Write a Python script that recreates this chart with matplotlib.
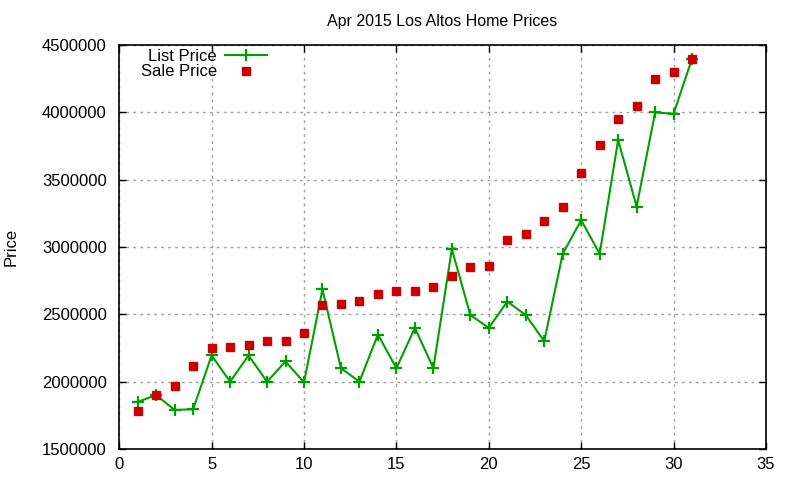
import matplotlib
matplotlib.use("Agg")
import matplotlib.pyplot as plt

days = list(range(1, 32))
list_price = [1850000, 1900000, 1790000, 1795000, 2195000, 2000000, 2195000, 2000000,
              2150000, 1995000, 2685000, 2100000, 2000000, 2350000, 2100000, 2400000,
              2100000, 2985000, 2495000, 2400000, 2595000, 2495000, 2300000, 2950000,
              3200000, 2950000, 3795000, 3300000, 4000000, 3990000, 4400000]
sale_price = [1785000, 1900000, 1965000, 2120000, 2250000, 2255000, 2270000, 2300000,
              2300000, 2360000, 2570000, 2575000, 2600000, 2650000, 2675000, 2675000,
              2700000, 2785000, 2850000, 2860000, 3050000, 3100000, 3195000, 3300000,
              3550000, 3755000, 3950000, 4050000, 4245000, 4300000, 4400000]
x_ticks = [0, 5, 10, 15, 20, 25, 30, 35]
y_ticks = [1500000, 2000000, 2500000, 3000000, 3500000, 4000000, 4500000]

plt.rcParams['font.family'] = ['Liberation Sans', 'DejaVu Sans']
fig = plt.figure(figsize=(8, 4.8), dpi=100)
ax = fig.add_axes([0.149, 0.0646, 0.8085, 0.8414])

ax.plot(days, list_price, color='#00a000', lw=1.5, marker='+', ms=9, mew=1.6,
        label='List Price')
ax.plot(days, sale_price, ls='none', color='#cc0000', marker='s', ms=6,
        label='Sale Price')

ax.set_xlim(0, 35)
ax.set_ylim(1500000, 4500000)
ax.set_xticks(x_ticks)
ax.set_yticks(y_ticks)
ax.set_xticklabels([str(t) for t in x_ticks])
ax.set_yticklabels([str(t) for t in y_ticks])
ax.tick_params(direction='in', top=True, right=True, labelsize=12, length=5, width=1)
ax.tick_params(axis='y', pad=9)
ax.tick_params(axis='x', pad=6)
ax.grid(True, color='#a0a0a0', ls=(0, (2, 3)), lw=1)
for s in ax.spines.values():
    s.set_linewidth(1.2)

ax.set_title('Apr 2015 Los Altos Home Prices', fontsize=11.5, pad=14)
ax.set_ylabel('Price', fontsize=12)
ax.yaxis.set_label_coords(-0.156, 0.5)

leg = ax.legend(loc='upper left', bbox_to_anchor=(0.023, 1.008), markerfirst=False,
                frameon=False, fontsize=12, handlelength=2.5, handletextpad=0.5,
                labelspacing=0.05, borderaxespad=0.0)
for t in leg.get_texts():
    t.set_ha('right')
leg._legend_box.align = 'right'

fig.savefig('out.png', dpi=100)
